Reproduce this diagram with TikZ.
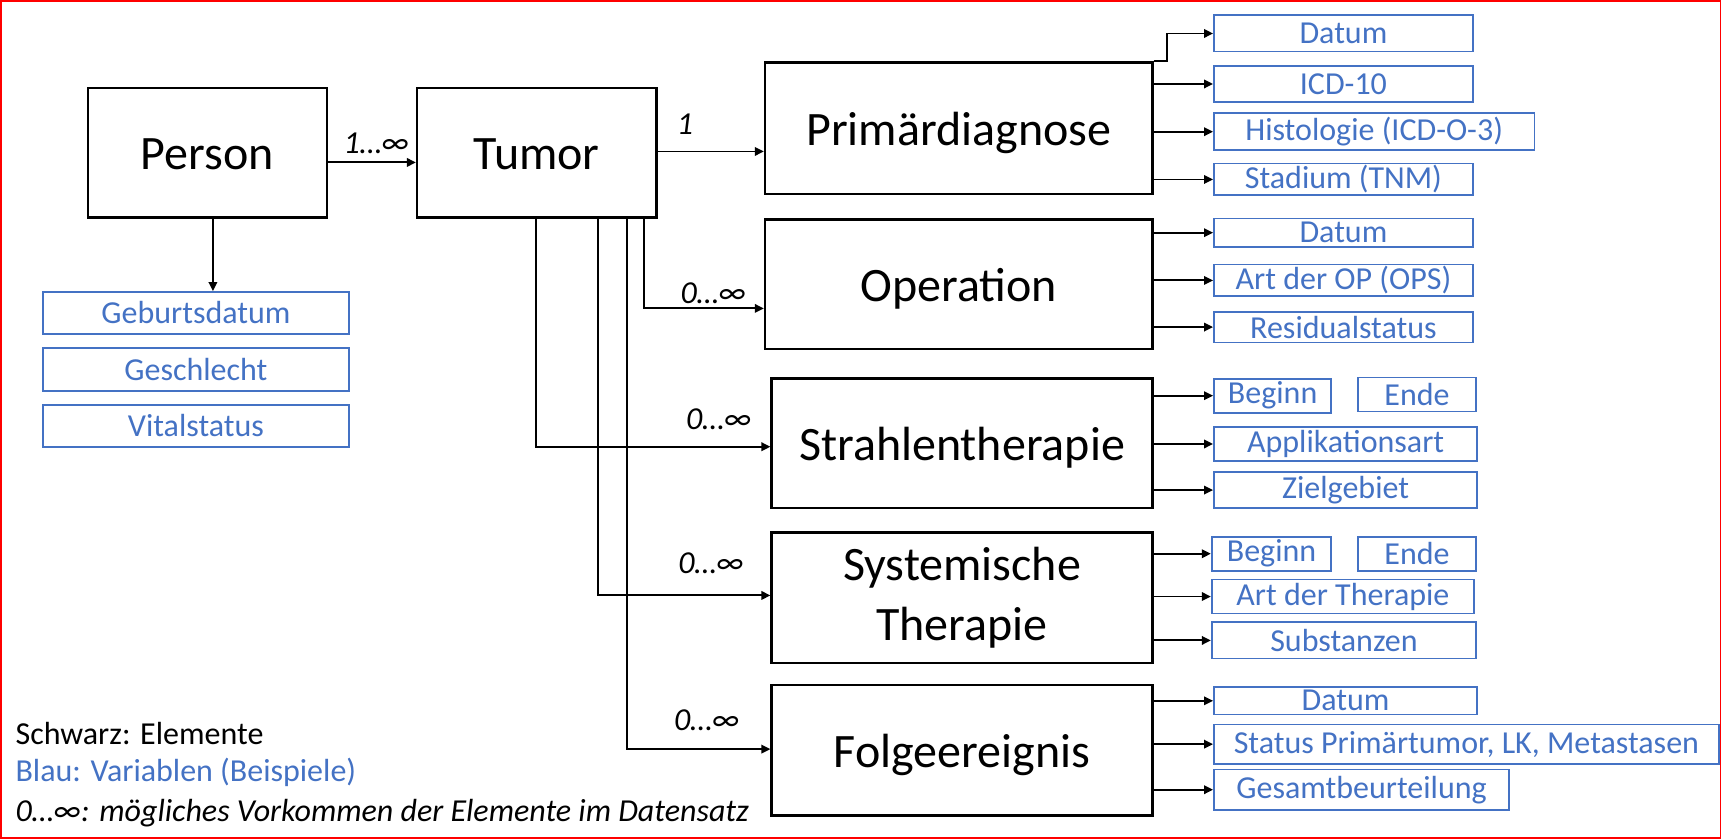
\documentclass[tikz,border=0pt]{standalone}
\usepackage{fontspec}
\setmainfont{Carlito}
\usetikzlibrary{arrows.meta,calc}
\definecolor{ablue}{HTML}{4472C4}
\begin{document}
\begin{tikzpicture}[x=1.0976pt,y=-1.0976pt,
  box/.style n args={4}{minimum width={(#3-#1)*1.0976pt}, minimum height={(#4-#2)*1.0976pt}, at={({(#1+#3)/2},{(#2+#4)/2})}},
  elembase/.style={draw=black, line width=2.4pt, inner sep=0pt, font=\fontsize{48}{60}\selectfont, align=center},
  elem/.style={elembase, text height=36pt, text depth=2pt},
  var/.style={draw=ablue, line width=1.8pt, inner sep=0pt, text=ablue, font=\fontsize{32}{38}\selectfont},
  arr/.style={line width=1.9pt, -{Triangle[length=9pt,width=8.5pt]}},
  lab/.style={font=\fontsize{32}{38}\selectfont\itshape, inner sep=0pt},
  leg/.style={font=\fontsize{32}{38}\selectfont, inner sep=0pt, anchor=west}]
\useasboundingbox (0,0) rectangle (1568,764);
\draw[red, line width=1.5pt] (0.7,0.7) rectangle (1567.3,763.3);

% main elements
\node[elem, box={80}{80}{298}{198}] (person) {Person};
\node[elem, box={380}{80}{598}{198}] (tumor) {Tumor};
\node[elem, box={697}{57}{1050}{177}] (prim) {Primärdiagnose};
\node[elem, box={697}{200}{1050}{318}] (op) {Operation};
\node[elem, box={703}{345}{1050}{463}] (strahl) {Strahlentherapie};
\node[elembase, box={703}{485}{1050}{604}] (syst) {Systemische\\Therapie};
\node[elem, box={703}{624}{1050}{743}] (folge) {Folgeereignis};

% person variables
\node[var, box={39}{266}{318}{304}] (geb) {Geburtsdatum};
\node[var, box={39}{317}{318}{356}] (geschl) {Geschlecht};
\node[var, box={39}{369}{318}{407}] (vital) {Vitalstatus};

% Primärdiagnose variables
\node[var, box={1106}{14}{1342}{47}] (pdat) {Datum};
\node[var, box={1106}{60}{1342}{93}] (picd) {ICD-10};
\node[var, box={1106}{103}{1398}{137}] (phist) {Histologie (ICD-O-3)};
\node[var, box={1106}{149}{1342}{178}] (pstad) {Stadium (TNM)};

% Operation variables
\node[var, box={1106}{199}{1342}{225}] (odat) {Datum};
\node[var, box={1106}{241}{1342}{270}] (oart) {Art der OP (OPS)};
\node[var, box={1106}{284}{1342}{312}] (ores) {Residualstatus};

% Strahlentherapie variables
\node[var, box={1106}{345}{1213}{376}] (sbeg) {Beginn};
\node[var, box={1237}{344}{1345}{375}] (send) {Ende};
\node[var, box={1106}{389}{1346}{420}] (sapp) {Applikationsart};
\node[var, box={1106}{430}{1346}{463}] (sziel) {Zielgebiet};

% Systemische Therapie variables
\node[var, box={1104}{489}{1213}{520}] (ybeg) {Beginn};
\node[var, box={1237}{489}{1345}{520}] (yend) {Ende};
\node[var, box={1104}{528}{1343}{559}] (yart) {Art der Therapie};
\node[var, box={1104}{567}{1345}{600}] (ysub) {Substanzen};

% Folgeereignis variables
\node[var, box={1106}{626}{1346}{651}] (fdat) {Datum};
\node[var, box={1106}{660}{1566}{696}] (fstat) {Status Primärtumor, LK, Metastasen};
\node[var, box={1106}{701}{1375}{738}] (fges) {Gesamtbeurteilung};

% connectors
\draw[arr] ($(person.east)+(0,9)$) -- ($(tumor.west)+(0,9)$);
\node[lab] (l1) at (343,131) {1…∞};
\coordinate (tp) at ($(tumor.east)+(0,-1)$);
\draw[arr] (tp) -- (tp -| prim.west);
\node[lab] (l2) at (624,113) {1};

\coordinate (pd) at ($(person.south)+(5,0)$);
\draw[arr] (pd) -- (pd |- geb.north);

\coordinate (s1) at ($(tumor.south)+(-1,0)$);
\coordinate (s2) at ($(tumor.south)+(56,0)$);
\coordinate (s3) at ($(tumor.south)+(82,0)$);
\coordinate (s4) at ($(tumor.south)+(98,0)$);
\draw[arr] (s4) |- ($(op.west)+(0,22)$);
\draw[arr] (s1) |- ($(strahl.west)+(0,3)$);
\draw[arr] (s2) |- ($(syst.west)+(0,-2)$);
\draw[arr] (s3) |- ($(folge.west)+(0,-1)$);
\node[lab] (l3) at (650,267) {0…∞};
\node[lab] (l4) at (655,382) {0…∞};
\node[lab] (l5) at (648,513) {0…∞};
\node[lab] (l6) at (644,656) {0…∞};

\draw[arr] (prim.north east) -- ++(12,0) |- (pdat.west);
\foreach \v in {picd,phist,pstad} \draw[arr] (prim.east |- \v.west) -- (\v.west);
\foreach \v in {odat,oart,ores} \draw[arr] (op.east |- \v.west) -- (\v.west);
\foreach \v in {sbeg,sapp,sziel} \draw[arr] (strahl.east |- \v.west) -- (\v.west);
\foreach \v in {ybeg,yart,ysub} \draw[arr] (syst.east |- \v.west) -- (\v.west);
\foreach \v in {fdat,fstat,fges} \draw[arr] (folge.east |- \v.west) -- (\v.west);

% legend
\node[leg] (lg1) at (14,668) {Schwarz: Elemente};
\node[leg, text=ablue] (lg2) at (14,704) {Blau: Variablen (Beispiele)};
\node[leg, font=\fontsize{32}{38}\selectfont\itshape] (lg3) at (14,741) {0…∞: mögliches Vorkommen der Elemente im Datensatz};
\end{tikzpicture}
\end{document}
